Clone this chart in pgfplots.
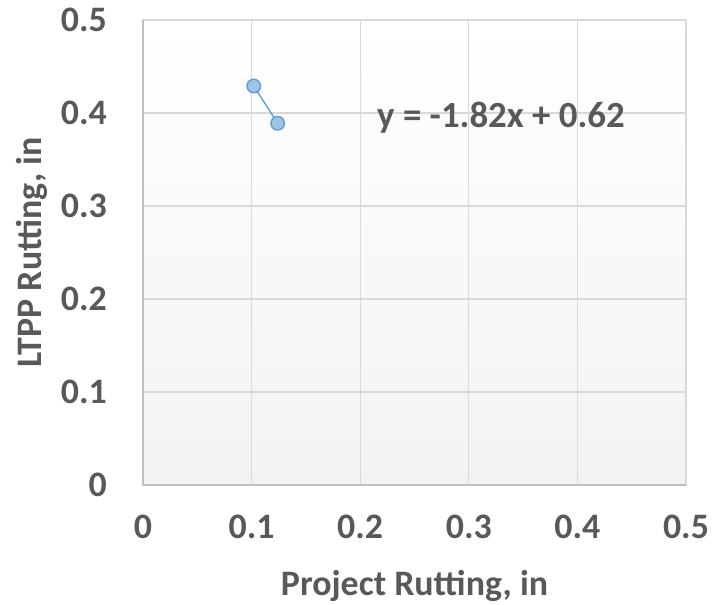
\documentclass[border=0pt]{standalone}
\usepackage{fontspec}
\setmainfont{Carlito}
\usepackage{pgfplots}
\pgfplotsset{compat=1.18}
\definecolor{txt}{HTML}{595959}
\definecolor{gridc}{HTML}{D9D9D9}
\definecolor{axc}{HTML}{BFBFBF}
\definecolor{mline}{HTML}{5B9BD5}
\definecolor{mfill}{HTML}{9DC3E6}
\begin{document}
\begin{tikzpicture}
\begin{axis}[
  scale only axis,
  width=543bp, height=465bp,
  xmin=0, xmax=0.5, ymin=0, ymax=0.5,
  xtick={0,0.1,...,0.5}, ytick={0,0.1,...,0.5},
  xticklabels={0,0.1,0.2,0.3,0.4,0.5},
  yticklabels={0,0.1,0.2,0.3,0.4,0.5},
  grid=major,
  major grid style={gridc, line width=1.1bp},
  axis line style={gridc, line width=1.1bp},
  major tick length=0pt,
  tick label style={font=\fontsize{36}{40}\selectfont\bfseries, text=txt, inner sep=0pt},
  xticklabel style={anchor=base, yshift=-53bp},
  yticklabel style={anchor=base east, xshift=-36bp, yshift=-11.5bp},
  label style={font=\fontsize{36}{40}\selectfont\bfseries, text=txt, inner sep=0pt},
  xlabel={Project Rutting, in},
  ylabel={LTPP Rutting, in},
  xlabel style={at={(axis description cs:0.5,-0.238)}, anchor=base},
  ylabel style={at={(axis description cs:-0.186,0.5)}, anchor=base},
  axis background/.style={top color=white, bottom color=black!5},
  clip=false,
]
\addplot[mline, line width=1.3bp, mark=*, mark size=6.8bp,
  mark options={fill=mfill, draw=mline, line width=1.3bp}]
  coordinates {(0.102,0.429) (0.124,0.389)};
\node[anchor=base west, inner sep=0pt, text=txt, font=\fontsize{37}{40}\selectfont\bfseries]
  at (axis cs:0.2155,0.384) {y = -1.82x + 0.62};
\draw[axc, line width=1.1bp] (axis cs:0,0.5) -- (axis cs:0,0) -- (axis cs:0.5,0);
\end{axis}
\pgfresetboundingbox
\path (current axis.south west) ++(-143bp,-120bp) rectangle ++(715bp,605bp);
\end{tikzpicture}
\end{document}
